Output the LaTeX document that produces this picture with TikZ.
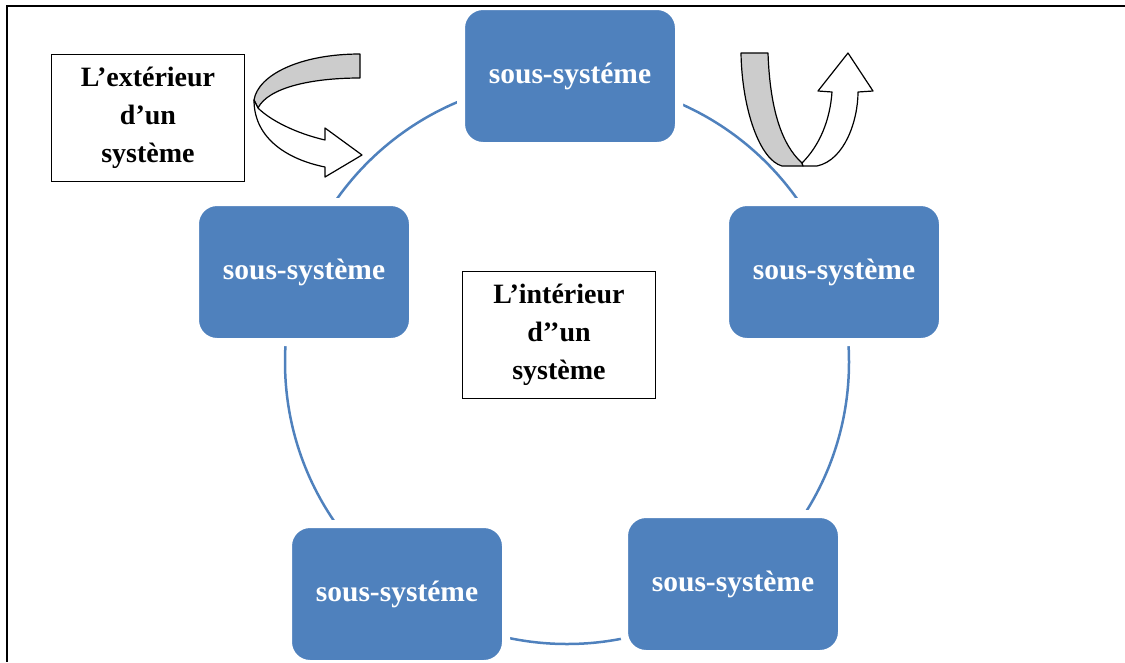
\documentclass[tikz,border=0pt]{standalone}
\usepackage{fontspec}
\setmainfont{Liberation Serif}
\definecolor{sysblue}{RGB}{79,129,189}
\definecolor{foldgrey}{RGB}{204,204,204}
\begin{document}
\begin{tikzpicture}[x=1pt,y=-1pt,
    subsys/.style={rectangle,rounded corners=22pt,fill=sysblue,draw=white,line width=8pt,
      minimum width=218pt,minimum height=140pt,text=white,font=\fontsize{29.5}{34}\selectfont\bfseries},
    textbox/.style={rectangle,draw,line width=1.3pt,minimum width=193pt,minimum height=127pt,
      align=center,font=\fontsize{28}{38}\selectfont\bfseries},
    band/.style={draw,line width=1.2pt,line join=round}]
    \useasboundingbox (0,0) rectangle (1125,662);
    % cycle behind the sub-systems
    \coordinate (centre) at (567,362);
    \draw[sysblue,line width=2.5pt] (centre) circle (282pt);
    \path (570,76) node[subsys](sstop){sous-systéme};
    \path (304,272) node[subsys](ssleft){sous-système};
    \path (834,272) node[subsys](ssright){sous-système};
    \path (397,594) node[subsys](ssbotleft){sous-systéme};
    \path (733,584) node[subsys](ssbotright){sous-système};
    \path (148,118) node[textbox](outside){L’extérieur\\d’un\\système};
    \path (559,335) node[textbox](inside){L’intérieur\\d’’un\\système};
    % curved arrow, left
    \draw[band,fill=foldgrey] (360,54) -- (360,78) .. controls (310,78) and (268,88) .. (258,108)
      -- (254,100) .. controls (258,75) and (300,54) .. (360,54) -- cycle;
    \draw[band,fill=white] (254,100) .. controls (254,140) and (290,160) .. (325,167) -- (325,177)
      -- (362,155) -- (325,128) -- (325,140) .. controls (295,133) and (270,120) .. (258,108) -- cycle;
    % curved arrow, right
    \draw[band,fill=foldgrey] (741,53) -- (768,53) .. controls (770,110) and (782,145) .. (802,163)
      -- (803,166) -- (782,166) .. controls (760,160) and (742,110) .. (741,53) -- cycle;
    \draw[band,fill=white] (802,163) .. controls (820,145) and (830,120) .. (832,92) -- (818,91)
      -- (848,53) -- (873,91) -- (858,92) .. controls (858,120) and (845,160) .. (817,166)
      -- (803,166) -- cycle;
    % frame
    \draw[line width=2pt] (1125,6) -- (7,6) -- (7,662);
  \end{tikzpicture}
\end{document}
